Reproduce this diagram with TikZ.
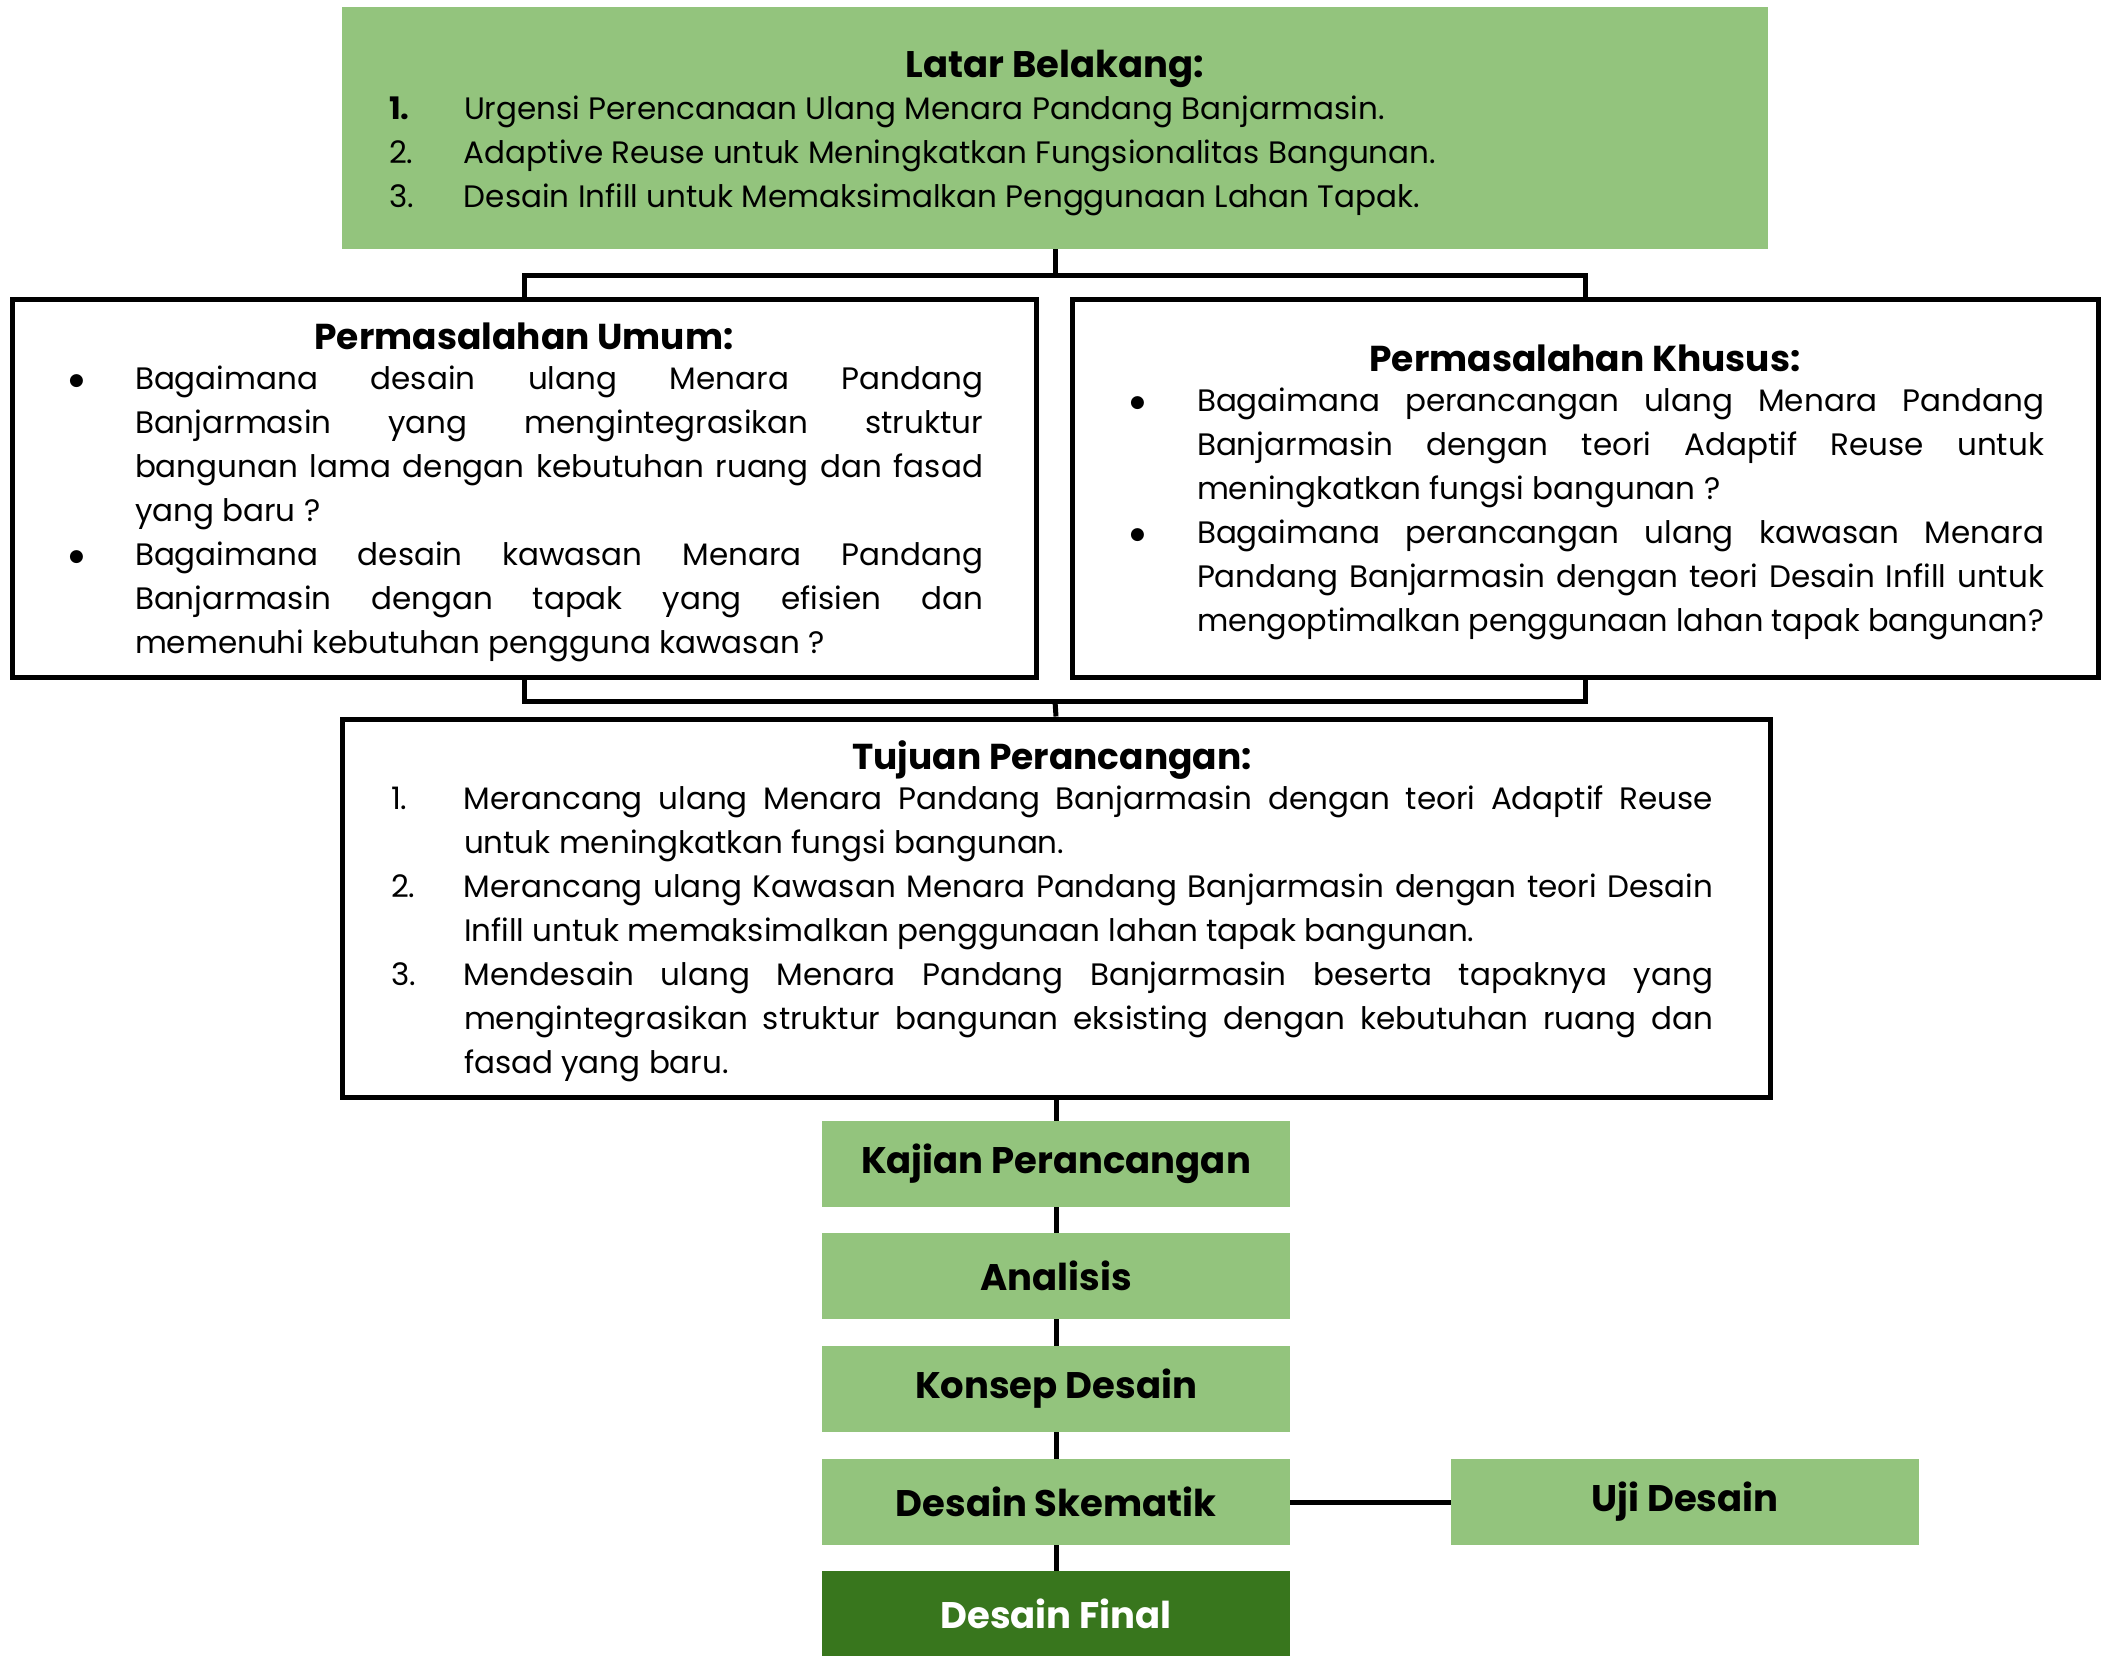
\documentclass[tikz,border=0pt]{standalone}
\usepackage{graphicx}
\usepackage{fontspec}
\setmainfont{Poppins}
\newfontfamily\symfont{DejaVu Sans}
\definecolor{lgreen}{HTML}{93C47D}
\definecolor{dgreen}{HTML}{38761D}
\newcommand{\bodyfont}{\fontsize{31}{44}\selectfont}
\newcommand{\headfont}{\bfseries\fontsize{36}{44}\selectfont}
\newcommand{\headline}[1]{{\centering\headfont #1\par}\vspace{-4pt}}
\newcommand{\hangitem}[3]{\par\noindent\hangindent=#1\hangafter=1\makebox[#1][l]{#2}#3\par}
\newcommand{\bigbullet}{\hspace{4pt}\raisebox{4pt}{\symfont\fontsize{17}{17}\selectfont ●}}
\hyphenpenalty=10000
\exhyphenpenalty=10000
\begin{document}
\begin{tikzpicture}[x=1pt,y=-1pt,
  framebox/.style={draw=black,line width=5pt,fill=white,inner sep=0pt},
  greenbox/.style={fill=lgreen,inner sep=0pt,minimum width=468pt,minimum height=86pt,font=\bfseries\fontsize{37}{40}\selectfont},
  finalbox/.style={greenbox,fill=dgreen,text=white},
  conn/.style={line width=5pt,line join=miter}]
\useasboundingbox (0,0) rectangle (2102,1656);
% Latar Belakang
\node[fill=lgreen,inner sep=0pt,minimum width=1426pt,minimum height=242pt] (lb) at (1055,128)
{\parbox{1332pt}{\bodyfont\vspace*{9pt}
{\centering\bfseries\fontsize{37}{44}\selectfont Latar Belakang:\par}\vspace{-2pt}
\hangitem{75pt}{\bfseries 1.}{Urgensi Perencanaan Ulang Menara Pandang Banjarmasin.}
\hangitem{75pt}{2.}{Adaptive Reuse untuk Meningkatkan Fungsionalitas Bangunan.}
\hangitem{75pt}{3.}{Desain Infill untuk Memaksimalkan Penggunaan Lahan Tapak.}}};
% Permasalahan Umum
\node[framebox,minimum width=1024pt,minimum height=378pt] (pu) at (524,488)
{\parbox{918pt}{\bodyfont\vspace*{8pt}
\headline{Permasalahan Umum:}
\hangitem{70pt}{\bigbullet}{Bagaimana desain ulang Menara Pandang\linebreak Banjarmasin yang mengintegrasikan struktur\linebreak bangunan lama dengan kebutuhan ruang dan fasad\linebreak yang baru ?}
\hangitem{70pt}{\bigbullet}{Bagaimana desain kawasan Menara Pandang\linebreak Banjarmasin dengan tapak yang efisien dan\linebreak memenuhi kebutuhan pengguna kawasan ?}}};
% Permasalahan Khusus
\node[framebox,minimum width=1026pt,minimum height=378pt] (pk) at (1585,488)
{\parbox{918pt}{\bodyfont\vspace*{8pt}
\headline{Permasalahan Khusus:}
\hangitem{71pt}{\bigbullet}{Bagaimana perancangan ulang Menara Pandang\linebreak Banjarmasin dengan teori Adaptif Reuse untuk\linebreak meningkatkan fungsi bangunan ?}
\hangitem{71pt}{\bigbullet}{Bagaimana perancangan ulang kawasan Menara\linebreak Pandang Banjarmasin dengan teori Desain Infill untuk\linebreak \resizebox{847pt}{\height}{mengoptimalkan penggunaan lahan tapak bangunan?}}}};
% Tujuan Perancangan
\node[framebox,minimum width=1428pt,minimum height=378pt] (tp) at (1056,908)
{\parbox{1322pt}{\bodyfont\vspace*{6pt}
\headline{Tujuan Perancangan:}
\hangitem{73pt}{1.}{Merancang ulang Menara Pandang Banjarmasin dengan teori Adaptif Reuse\linebreak untuk meningkatkan fungsi bangunan.}
\hangitem{73pt}{2.}{Merancang ulang Kawasan Menara Pandang Banjarmasin dengan teori Desain\linebreak Infill untuk memaksimalkan penggunaan lahan tapak bangunan.}
\hangitem{73pt}{3.}{Mendesain ulang Menara Pandang Banjarmasin beserta tapaknya yang\linebreak mengintegrasikan struktur bangunan eksisting dengan kebutuhan ruang dan\linebreak fasad yang baru.}}\kern8pt};
% flow
\node[greenbox] (kp) at (1056,1164) {Kajian Perancangan};
\node[greenbox] (an) at (1056,1276) {Analisis};
\node[greenbox] (kd) at (1056,1389) {Konsep Desain};
\node[greenbox] (ds) at (1056,1502) {Desain Skematik};
\node[greenbox] (ud) at (1685,1502) {Uji Desain};
\node[finalbox] (df) at (1056,1614) {Desain Final};
% connectors
\coordinate (jt) at (1055,275);
\coordinate (jb) at (1055,701);
\draw[conn] (lb.south) -- (jt);
\draw[conn] (pu.north) |- (jt) -| (pk.north);
\draw[conn] (pu.south) |- (jb) -| (pk.south);
\draw[conn] (jb) -- (tp.north);
\draw[conn] (tp.south) -- (kp.north);
\draw[conn] (kp.south) -- (an.north);
\draw[conn] (an.south) -- (kd.north);
\draw[conn] (kd.south) -- (ds.north);
\draw[conn] (ds.south) -- (df.north);
\draw[conn] (ds.east) -- (ud.west);
\end{tikzpicture}
\end{document}
